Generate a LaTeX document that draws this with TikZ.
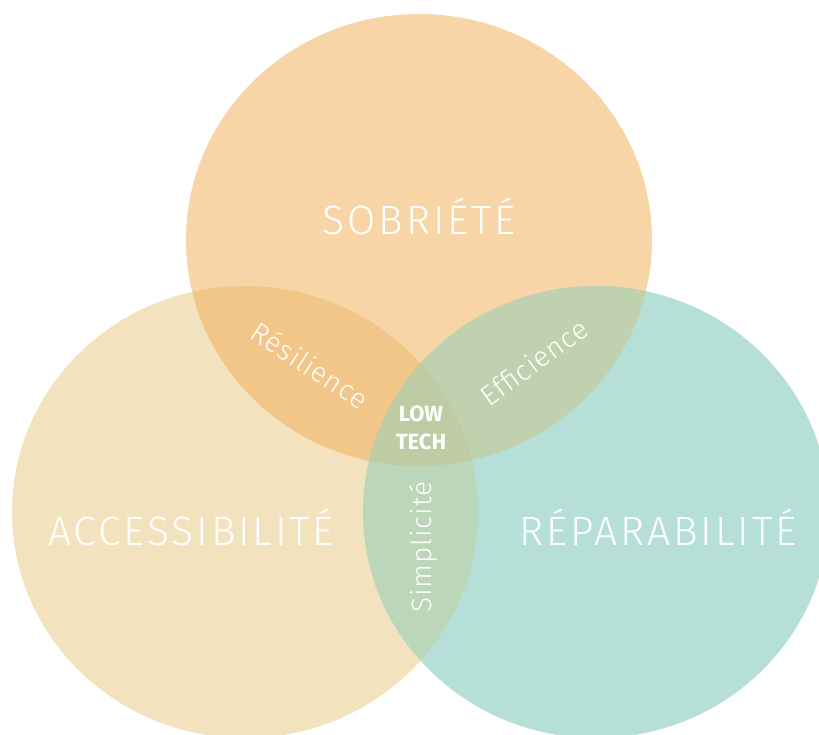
\documentclass[tikz,border=0pt]{standalone}
\usepackage{fontspec}
\setsansfont{Fira Sans}[UprightFont={* Light}, BoldFont={* Bold}]
\definecolor{sobriete}{HTML}{F8D5A6}
\definecolor{access}{HTML}{F3E2BE}
\definecolor{repar}{HTML}{B6E0D7}
\definecolor{resil}{HTML}{F2C688}
\definecolor{effic}{HTML}{C0D1AF}
\definecolor{simpl}{HTML}{BCD6B9}
\definecolor{lowtech}{HTML}{BFCBA3}
\def\topset{(419,240) ellipse [x radius=233, y radius=226]}
\def\leftset{(245,512) ellipse [x radius=233, y radius=226]}
\def\rightset{(596,512) ellipse [x radius=233, y radius=226]}
\begin{document}
\begin{tikzpicture}[
	                x = 1pt,
	                y = -1pt,
	 bigword/.style = {text=white, anchor=base, font=\sffamily\fontsize{41}{41}\selectfont\addfontfeatures{LetterSpace=7}},
	pairword/.style = {text=white, font=\sffamily\fontsize{28}{28}\selectfont\addfontfeatures{LetterSpace=3}},
	coreword/.style = {text=white, align=center, font=\sffamily\bfseries\fontsize{22}{28}\selectfont},
	                   ]
		\clip (0,0) rectangle (819,734);
		% the three sets
		\fill[sobriete] \topset;
		\fill[access] \leftset;
		\fill[repar] \rightset;
		% pairwise overlaps
		\begin{scope}
		    \clip \topset;
		    \fill[resil] \leftset;
		    \fill[effic] \rightset;
		\end{scope}
		\begin{scope}
		    \clip \leftset;
		    \fill[simpl] \rightset;
		    \clip \rightset;
		    \fill[lowtech] \topset;
		\end{scope}
		% labels
		\node[bigword] (sob) at (419,234) {SOBRIÉTÉ};
		\node[bigword] (acc) at (191,545) {ACCESSIBILITÉ};
		\node[bigword] (rep) at (658,545) {RÉPARABILITÉ};
		\node[pairword, rotate=-33] (res) at (310,365) {Résilience};
		\node[pairword, rotate=36] (eff) at (534,362) {Efficience};
		\node[pairword, rotate=90] (sim) at (423,547) {Simplicité};
		\node[coreword] (low) at (421,428) {LOW\\TECH};
\end{tikzpicture}
\end{document}
